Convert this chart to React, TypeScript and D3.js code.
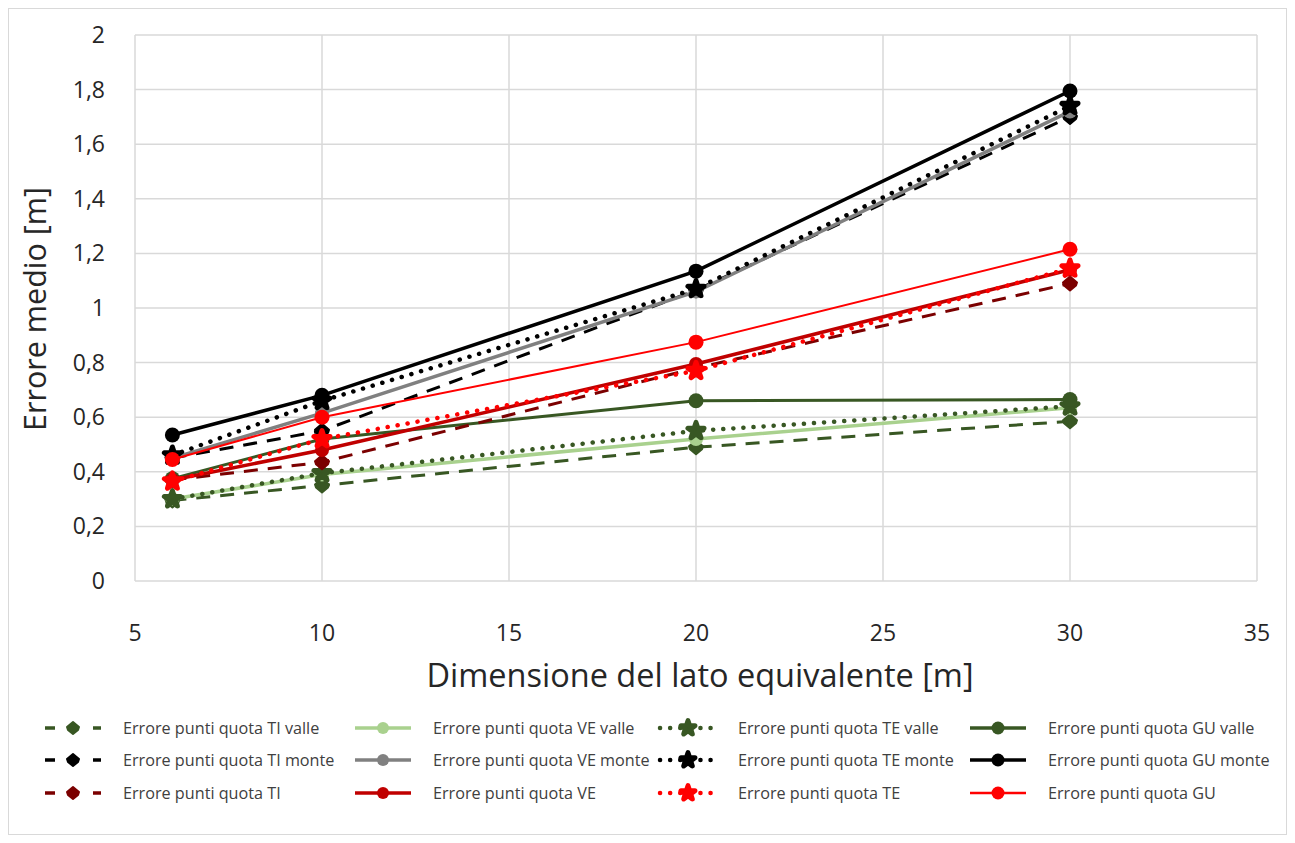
import React from "react";
import * as d3 from "d3";

const xValues = [6, 10, 20, 30];
const xTicks = [5, 10, 15, 20, 25, 30, 35];
const yTicks = [0, 0.2, 0.4, 0.6, 0.8, 1, 1.2, 1.4, 1.6, 1.8, 2];

const tiValle = [0.295, 0.35, 0.49, 0.585];
const veValle = [0.3, 0.39, 0.52, 0.635];
const teValle = [0.3, 0.395, 0.55, 0.64];
const guValle = [0.375, 0.52, 0.66, 0.665];
const tiMonte = [0.45, 0.55, 1.065, 1.7];
const veMonte = [0.45, 0.615, 1.06, 1.72];
const teMonte = [0.46, 0.66, 1.07, 1.74];
const guMonte = [0.535, 0.68, 1.135, 1.795];
const tiAll = [0.37, 0.435, 0.78, 1.09];
const veAll = [0.37, 0.48, 0.795, 1.14];
const teAll = [0.365, 0.52, 0.77, 1.145];
const guAll = [0.445, 0.6, 0.875, 1.215];

type Kind = "TI" | "VE" | "TE" | "GU";
interface Series { name: string; values: number[]; color: string; kind: Kind; width: number; }

const series: Series[] = [
  { name: "Errore punti quota TI valle", values: tiValle, color: "#385723", kind: "TI", width: 3 },
  { name: "Errore punti quota VE valle", values: veValle, color: "#A9D18E", kind: "VE", width: 3.5 },
  { name: "Errore punti quota TE valle", values: teValle, color: "#385723", kind: "TE", width: 4.5 },
  { name: "Errore punti quota GU valle", values: guValle, color: "#385723", kind: "GU", width: 3 },
  { name: "Errore punti quota TI monte", values: tiMonte, color: "#000000", kind: "TI", width: 3 },
  { name: "Errore punti quota VE monte", values: veMonte, color: "#808080", kind: "VE", width: 3.5 },
  { name: "Errore punti quota TE monte", values: teMonte, color: "#000000", kind: "TE", width: 4.5 },
  { name: "Errore punti quota GU monte", values: guMonte, color: "#000000", kind: "GU", width: 3.5 },
  { name: "Errore punti quota TI", values: tiAll, color: "#7B0000", kind: "TI", width: 3 },
  { name: "Errore punti quota VE", values: veAll, color: "#C00000", kind: "VE", width: 3.5 },
  { name: "Errore punti quota TE", values: teAll, color: "#FF0000", kind: "TE", width: 4.5 },
  { name: "Errore punti quota GU", values: guAll, color: "#FF0000", kind: "GU", width: 2 },
];

const W = 1295, H = 843;
const left = 135, right = 1257, top = 35, bottom = 581;
const x = d3.scaleLinear().domain([5, 35]).range([left, right]);
const y = d3.scaleLinear().domain([0, 2]).range([bottom, top]);
const fmt = (v: number) => String(+v.toFixed(1)).replace(".", ",");
const FONT = "'Open Sans', 'Noto Sans', sans-serif";

function dashFor(k: Kind) {
  if (k === "TI") return "14 10";
  if (k === "TE") return "0.1 10";
  return undefined;
}

function Marker({ k, cx, cy, color, legend }: { k: Kind; cx: number; cy: number; color: string; legend?: boolean }) {
  if (k === "GU") return <circle cx={cx} cy={cy} r={legend ? 6.5 : 7.5} fill={color} />;
  if (k === "VE") return <circle cx={cx} cy={cy} r={legend ? 6 : 7} fill={color} />;
  if (k === "TI") {
    const s = legend ? 6 : 7;
    return <path d={`M${cx},${cy - s}L${cx + s},${cy - 1}L${cx + s - 1},${cy + 2}L${cx},${cy + s}L${cx - s + 1},${cy + 2}L${cx - s},${cy - 1}Z`}
      fill={color} stroke={color} strokeWidth={2} strokeLinejoin="round" />;
  }
  const star = d3.symbol().type(d3.symbolStar).size(legend ? 60 : 80)();
  return (
    <g transform={`translate(${cx},${cy})`}>
      <path d={star || ""} fill={color} stroke={color} strokeWidth={5} strokeLinejoin="round" />
    </g>
  );
}

export default function App() {
  const line = d3.line<number>().x((_, i) => x(xValues[i])).y((v) => y(v));
  const legendCols = [45, 355, 660, 970];
  const legendRows = [728, 760, 793];
  return (
    <svg width={W} height={H} style={{ position: "absolute", left: 0, top: 0, background: "#fff" }}>
      <rect x={8.5} y={8.5} width={1278} height={826} fill="#fff" stroke="#D9D9D9" />
      {xTicks.map((t) => (
        <line key={"gx" + t} x1={x(t)} x2={x(t)} y1={top} y2={bottom} stroke="#D9D9D9" strokeWidth={1.5} />
      ))}
      {yTicks.map((t) => (
        <line key={"gy" + t} x1={left} x2={right} y1={y(t)} y2={y(t)} stroke="#D9D9D9" strokeWidth={1.5} />
      ))}
      {yTicks.map((t) => (
        <text key={"ty" + t} x={105} y={y(t) + 8} textAnchor="end" fontSize={23} fill="#262626" fontFamily={FONT}>{fmt(t)}</text>
      ))}
      {xTicks.map((t) => (
        <text key={"tx" + t} x={x(t)} y={641} textAnchor="middle" fontSize={23} fill="#262626" fontFamily={FONT}>{t}</text>
      ))}
      <text x={700} y={687} textAnchor="middle" fontSize={32.5} fill="#262626" fontFamily={FONT}>Dimensione del lato equivalente [m]</text>
      <text transform={`translate(46,${(top + bottom) / 2 + 1}) rotate(-90)`} textAnchor="middle" fontSize={30.5} fill="#262626" fontFamily={FONT}>Errore medio [m]</text>
      {series.map((s) => (
        <g key={s.name}>
          <path d={line(s.values) || ""} fill="none" stroke={s.color} strokeWidth={s.width}
            strokeDasharray={dashFor(s.kind)} strokeLinecap={s.kind === "TE" ? "round" : "butt"} />
          {s.values.map((v, i) => (
            <Marker key={i} k={s.kind} cx={x(xValues[i])} cy={y(v)} color={s.color} />
          ))}
        </g>
      ))}
      {series.map((s, i) => {
        const lx = legendCols[i % 4];
        const ly = legendRows[Math.floor(i / 4)];
        const dash = s.kind === "TI" ? "10 14" : s.kind === "TE" ? "0.1 10" : undefined;
        return (
          <g key={"lg" + s.name}>
            <line x1={lx} x2={lx + 56} y1={ly} y2={ly} stroke={s.color} strokeWidth={s.kind === "TE" ? 4.5 : s.kind === "GU" && s.width < 3 ? 2.5 : 3.5}
              strokeDasharray={dash} strokeLinecap={s.kind === "TE" ? "round" : "butt"} />
            {s.kind === "TI" && <rect x={lx + 21} y={ly - 4} width={14} height={8} fill="#fff" />}
            <Marker k={s.kind} cx={lx + 28} cy={ly} color={s.color} legend />
            <text x={lx + 78} y={ly + 5.5} fontSize={16.2} fill="#404040" fontFamily={FONT}>{s.name}</text>
          </g>
        );
      })}
    </svg>
  );
}
